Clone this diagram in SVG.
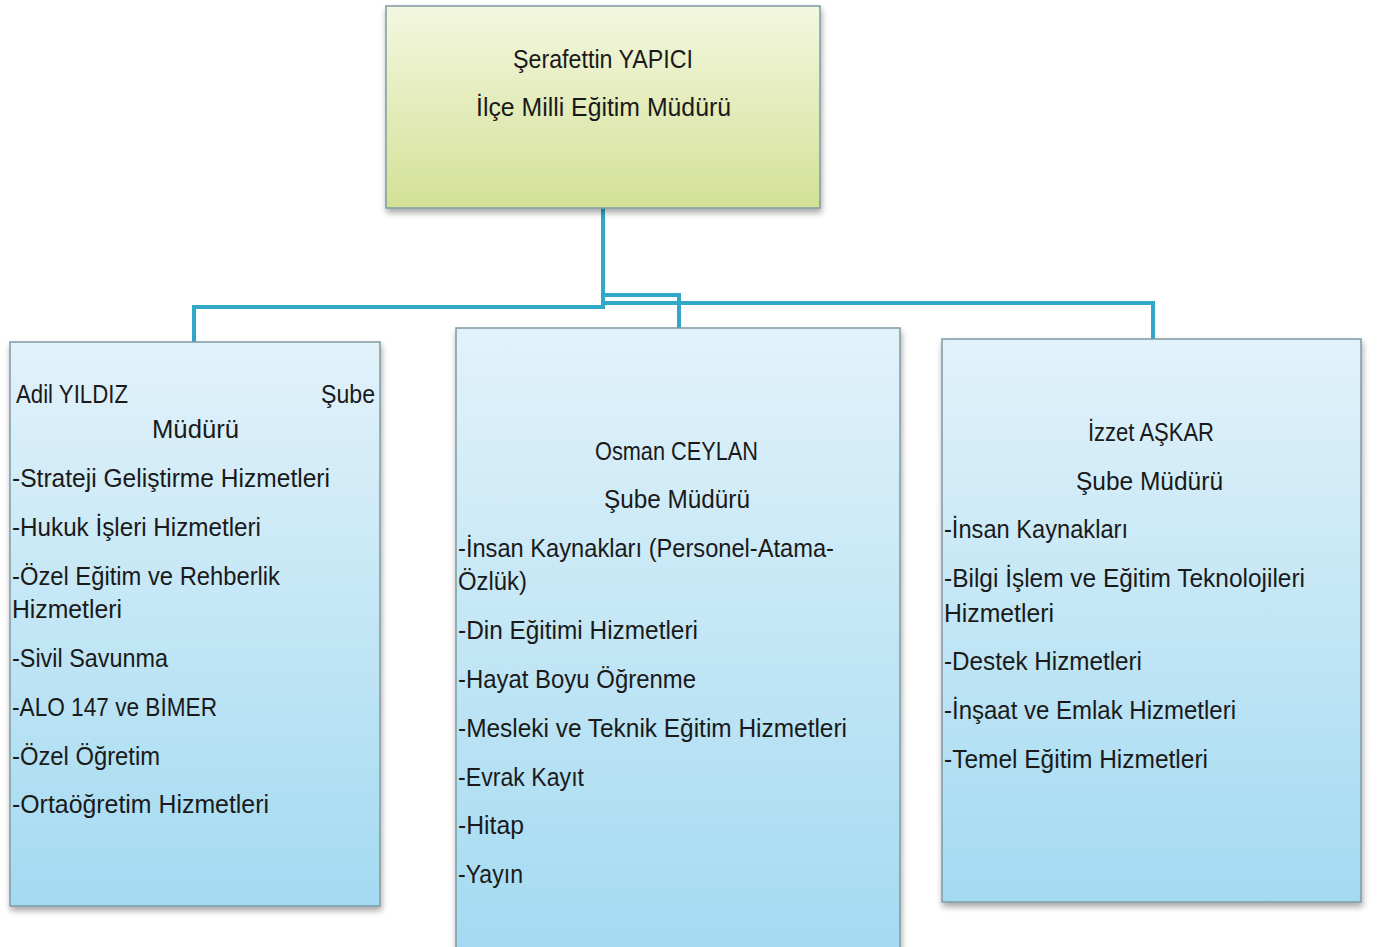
<svg xmlns="http://www.w3.org/2000/svg" width="1380" height="947" viewBox="0 0 1380 947">
<defs>
<linearGradient id="gTop" x1="0" y1="0" x2="0" y2="1">
<stop offset="0" stop-color="#f4f7e0"/>
<stop offset="1" stop-color="#d3e196"/>
</linearGradient>
<linearGradient id="gBlue" x1="0" y1="0" x2="0" y2="1">
<stop offset="0" stop-color="#e2f2fa"/>
<stop offset="1" stop-color="#a3daf1"/>
</linearGradient>
<filter id="sh" x="-5%" y="-5%" width="112%" height="115%">
<feDropShadow dx="1" dy="4" stdDeviation="3" flood-color="#000" flood-opacity="0.35"/>
</filter>
</defs>
<style>
.box{stroke:#7d9aa3;stroke-width:1.5;filter:url(#sh)}
.top{fill:url(#gTop)}
.blue{fill:url(#gBlue)}
.conn{fill:none;stroke:#31a8c8;stroke-width:4}
text{font-family:"Liberation Sans",Arial,sans-serif;font-size:26px;fill:#1a1a1a}
</style>
<rect width="1380" height="947" fill="#ffffff"/>
<g id="connectors">
<path class="conn" d="M603 208 V307 H194 V342"/>
<path class="conn" d="M603 303 H1153 V339"/>
<path class="conn" d="M603 295 H679 V328"/>
</g>
<g id="node-top">
<rect class="box top" x="386" y="6" width="434" height="202"/>
<text x="513" y="68" textLength="180" lengthAdjust="spacingAndGlyphs">Şerafettin YAPICI</text>
<text x="476" y="116" textLength="255" lengthAdjust="spacingAndGlyphs">İlçe Milli Eğitim Müdürü</text>
</g>
<g id="node-left">
<rect class="box blue" x="10" y="342" width="370" height="564"/>
<text x="16" y="403" textLength="112" lengthAdjust="spacingAndGlyphs">Adil YILDIZ</text>
<text x="321" y="403" textLength="54" lengthAdjust="spacingAndGlyphs">Şube</text>
<text x="152" y="438" textLength="87" lengthAdjust="spacingAndGlyphs">Müdürü</text>
<text x="12" y="487" textLength="318" lengthAdjust="spacingAndGlyphs">-Strateji Geliştirme Hizmetleri</text>
<text x="12" y="536" textLength="249" lengthAdjust="spacingAndGlyphs">-Hukuk İşleri Hizmetleri</text>
<text x="12" y="585" textLength="268" lengthAdjust="spacingAndGlyphs">-Özel Eğitim ve Rehberlik</text>
<text x="12" y="618" textLength="110" lengthAdjust="spacingAndGlyphs">Hizmetleri</text>
<text x="12" y="667" textLength="156" lengthAdjust="spacingAndGlyphs">-Sivil Savunma</text>
<text x="12" y="716" textLength="205" lengthAdjust="spacingAndGlyphs">-ALO 147 ve BİMER</text>
<text x="12" y="765" textLength="148" lengthAdjust="spacingAndGlyphs">-Özel Öğretim</text>
<text x="12" y="813" textLength="257" lengthAdjust="spacingAndGlyphs">-Ortaöğretim Hizmetleri</text>
</g>
<g id="node-middle">
<rect class="box blue" x="456" y="328" width="444" height="625"/>
<text x="595" y="460" textLength="163" lengthAdjust="spacingAndGlyphs">Osman CEYLAN</text>
<text x="604" y="508" textLength="146" lengthAdjust="spacingAndGlyphs">Şube Müdürü</text>
<text x="458" y="557" textLength="376" lengthAdjust="spacingAndGlyphs">-İnsan Kaynakları (Personel-Atama-</text>
<text x="458" y="590" textLength="69" lengthAdjust="spacingAndGlyphs">Özlük)</text>
<text x="458" y="639" textLength="240" lengthAdjust="spacingAndGlyphs">-Din Eğitimi Hizmetleri</text>
<text x="458" y="688" textLength="238" lengthAdjust="spacingAndGlyphs">-Hayat Boyu Öğrenme</text>
<text x="458" y="737" textLength="389" lengthAdjust="spacingAndGlyphs">-Mesleki ve Teknik Eğitim Hizmetleri</text>
<text x="458" y="786" textLength="126" lengthAdjust="spacingAndGlyphs">-Evrak Kayıt</text>
<text x="458" y="834" textLength="66" lengthAdjust="spacingAndGlyphs">-Hitap</text>
<text x="458" y="883" textLength="65" lengthAdjust="spacingAndGlyphs">-Yayın</text>
</g>
<g id="node-right">
<rect class="box blue" x="942" y="339" width="419" height="563"/>
<text x="1088" y="441" textLength="126" lengthAdjust="spacingAndGlyphs">İzzet AŞKAR</text>
<text x="1076" y="490" textLength="147" lengthAdjust="spacingAndGlyphs">Şube Müdürü</text>
<text x="944" y="538" textLength="184" lengthAdjust="spacingAndGlyphs">-İnsan Kaynakları</text>
<text x="944" y="587" textLength="361" lengthAdjust="spacingAndGlyphs">-Bilgi İşlem ve Eğitim Teknolojileri</text>
<text x="944" y="622" textLength="110" lengthAdjust="spacingAndGlyphs">Hizmetleri</text>
<text x="944" y="670" textLength="198" lengthAdjust="spacingAndGlyphs">-Destek Hizmetleri</text>
<text x="944" y="719" textLength="292" lengthAdjust="spacingAndGlyphs">-İnşaat ve Emlak Hizmetleri</text>
<text x="944" y="768" textLength="264" lengthAdjust="spacingAndGlyphs">-Temel Eğitim Hizmetleri</text>
</g>
</svg>
